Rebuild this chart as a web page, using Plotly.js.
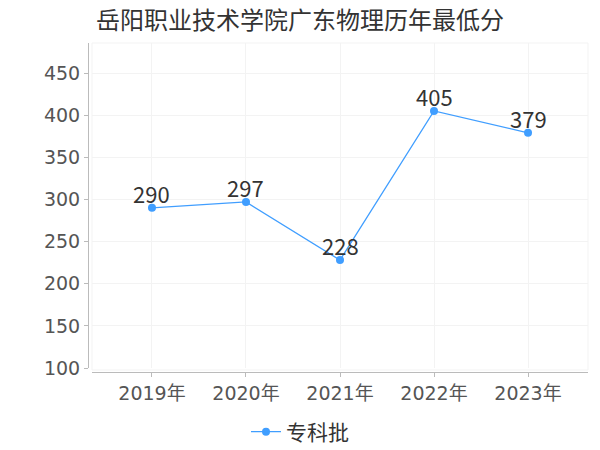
<!DOCTYPE html>
<html>
<head>
<meta charset="utf-8">
<script src="https://cdn.plot.ly/plotly-3.0.1.min.js"></script>
<style>html,body{margin:0;padding:0;background:#fff;}#chart{width:600px;height:450px;}</style>
</head>
<body>
<div id="chart"></div>
<script>
var categories = ["2019年", "2020年", "2021年", "2022年", "2023年"];
var seriesName = "专科批";
var values = [290, 297, 228, 405, 379];
var yTicks = [100, 150, 200, 250, 300, 350, 400, 450];
var titleText = "岳阳职业技术学院广东物理历年最低分";

var FONT = "DejaVu Sans, 'Noto Sans CJK SC', sans-serif";
var CJK = "'Noto Sans CJK SC', sans-serif";
var BLUE = "#409EFF";

var trace = {
  type: "scatter",
  mode: "lines+markers",
  name: seriesName,
  x: categories,
  y: values,
  line: {color: BLUE, width: 1.3},
  marker: {color: BLUE, size: 8},
  cliponaxis: false,
  hoverinfo: "x+y"
};

var labels = categories.map(function (c, i) {
  return {
    x: c, y: values[i], xref: "x", yref: "y",
    text: String(values[i]), showarrow: false,
    xanchor: "center", yanchor: "middle", yshift: 15,
    font: {family: CJK, size: 22, color: "#333"}
  };
});

var layout = {
  width: 600, height: 450,
  margin: {l: 88, r: 12, t: 43, b: 78},
  paper_bgcolor: "#fff", plot_bgcolor: "#fff",
  title: {text: titleText, x: 0.5, xref: "container", xanchor: "center", y: 0.955, yanchor: "middle",
          font: {family: CJK, size: 24, color: "#333"}},
  font: {family: FONT},
  showlegend: true,
  legend: {orientation: "h", x: 0.5, xanchor: "center", xref: "container", y: 0.04, yref: "container", yanchor: "middle",
           font: {family: CJK, size: 21, color: "#333"}},
  xaxis: {
    type: "category",
    domain: [0.008, 1],
    anchor: "free", position: 0,
    range: [-0.638, 4.638],
    showline: true, linecolor: "#bbb", linewidth: 1,
    showgrid: true, gridcolor: "#f3f3f3",
    ticks: "outside", ticklen: 4, tickcolor: "#bbb",
    tickfont: {family: FONT, size: 19, color: "#555"},
    zeroline: false, fixedrange: true
  },
  yaxis: {
    domain: [0.01216, 1],
    anchor: "free", position: 0,
    range: [100, 485.6],
    tickvals: yTicks,
    showline: true, linecolor: "#bbb", linewidth: 1,
    showgrid: true, gridcolor: "#f3f3f3",
    ticks: "outside", ticklen: 4, tickcolor: "#bbb",
    tickfont: {family: FONT, size: 19, color: "#555"},
    zeroline: false, fixedrange: true
  },
  annotations: labels,
  shapes: [
    {type: "rect", xref: "paper", yref: "paper", x0: 0.008, x1: 1, y0: 0.006, y1: 1,
     line: {color: "#f3f3f3", width: 1}, fillcolor: "rgba(0,0,0,0)", layer: "below"}
  ]
};

Plotly.newPlot("chart", [trace], layout, {displayModeBar: false, staticPlot: true});
</script>
</body>
</html>
